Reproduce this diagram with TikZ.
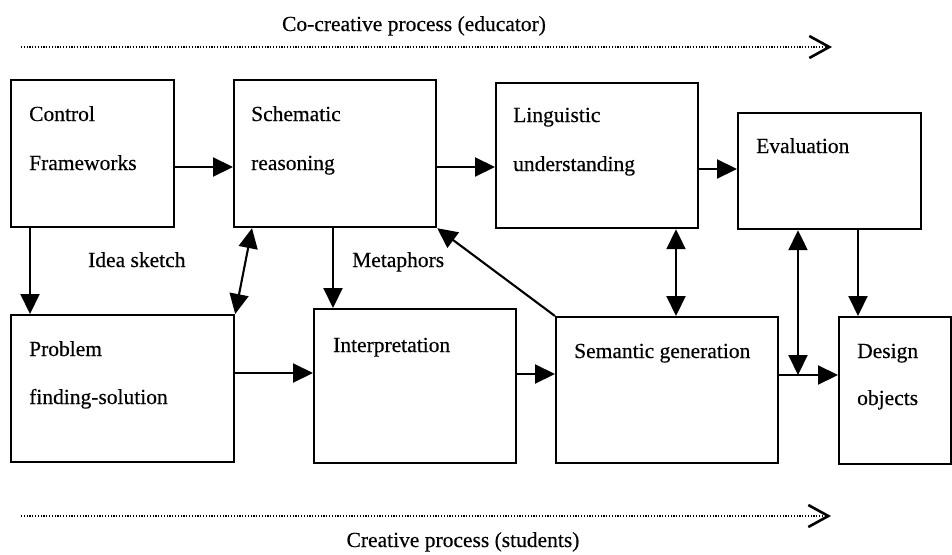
\documentclass[tikz,border=0pt]{standalone}
\usepackage{fontspec}
\setmainfont{Liberation Serif}
\newfontfamily\scanfont[FakeBold=0.4]{Liberation Serif}
\usetikzlibrary{arrows.meta,calc}
\begin{document}
\begin{tikzpicture}[x=1pt,y=-1pt,
  lbl/.style={inner sep=0pt,anchor=base west,font=\scanfont\fontsize{21.5}{26}\selectfont},
  ctr/.style={inner sep=0pt,anchor=base,font=\scanfont\fontsize{21.5}{26}\selectfont},
  box/.style={draw,line width=2.2pt,inner sep=0pt},
  arr/.style={line width=2.1pt,-{Triangle[length=20pt,width=19pt]}},
  arrboth/.style={line width=2.1pt,{Triangle[length=20pt,width=19pt]}-{Triangle[length=20pt,width=19pt]}},
  flow/.style={line width=1.5pt,dash pattern=on 1.2pt off 1.6pt,
    -{Straight Barb[length=20pt,width=22pt,line width=2.6pt]}}]
\useasboundingbox (0,0) rectangle (952,554);

% boxes, placed by their upper left corners
\node[box,minimum width=163pt,minimum height=147pt,anchor=north west] (A) at (10,79) {};
\node[box,minimum width=202pt,minimum height=147pt,anchor=north west] (B) at (233,79) {};
\node[box,minimum width=202pt,minimum height=145pt,anchor=north west] (C) at (495,82) {};
\node[box,minimum width=183pt,minimum height=116pt,anchor=north west] (E) at (737,112) {};
\node[box,minimum width=223pt,minimum height=147pt,anchor=north west] (P) at (10,314) {};
\node[box,minimum width=202pt,minimum height=154pt,anchor=north west] (I) at (313,308) {};
\node[box,minimum width=222pt,minimum height=146pt,anchor=north west] (S) at (555,316) {};
\node[box,minimum width=112pt,minimum height=147pt,anchor=north west] (D) at (838,316) {};

% box texts
\node[lbl] (A1) at (29,121) {Control};
\node[lbl] (A2) at (29,170) {Frameworks};
\node[lbl] (B1) at (251,121) {Schematic};
\node[lbl] (B2) at (251,170) {reasoning};
\node[lbl] (C1) at (513,122) {Linguistic};
\node[lbl] (C2) at (513,171) {understanding};
\node[lbl] (E1) at (756,153) {Evaluation};
\node[lbl] (P1) at (29,356) {Problem};
\node[lbl] (P2) at (29,404) {finding-solution};
\node[lbl] (I1) at (333,352) {Interpretation};
\node[lbl] (S1) at (574,358) {Semantic generation};
\node[lbl] (D1) at (857,358) {Design};
\node[lbl] (D2) at (857,405) {objects};

% connector labels
\node[lbl] (idea) at (88,267) {Idea sketch};
\node[lbl] (meta) at (352,267) {Metaphors};

% process lines
\node[ctr] (top) at (414,31) {Co-creative process (educator)};
\node[ctr] (bot) at (463,547) {Creative process (students)};
\coordinate (t0) at (21,47);
\coordinate (t1) at (832,47);
\coordinate (b0) at (21,516);
\coordinate (b1) at (831,516);
\draw[flow] (t0) -- (t1);
\draw[flow] (b0) -- (b1);

% connectors, upper row
\draw[arr] (A.east |- 0,167) -- (B.west |- 0,167);
\draw[arr] (B.east |- 0,167) -- (C.west |- 0,167);
\draw[arr] (C.east |- 0,169) -- (E.west |- 0,169);

% connectors, lower row
\draw[arr] (P.east |- 0,373) -- (I.west |- 0,373);
\draw[arr] (I.east |- 0,374) -- (S.west |- 0,374);
\draw[arr] (S.east |- 0,375) -- (D.west |- 0,375);

% connectors between the rows
\draw[arr] (A.south -| 30,0) -- (P.north -| 30,0);
\draw[arrboth] ([xshift=19pt]B.south west) -- (P.north east);
\draw[arr] (B.south -| 333,0) -- (I.north -| 333,0);
\draw[arr] (S.north west) -- (B.south east);
\draw[arrboth] (C.south -| 676,0) -- (S.north -| 676,0);
\coordinate (J) at (798,375);
\draw[arrboth] (J) -- (E.south -| J);
\draw[arr] (E.south -| 858,0) -- (D.north -| 858,0);
\end{tikzpicture}
\end{document}
